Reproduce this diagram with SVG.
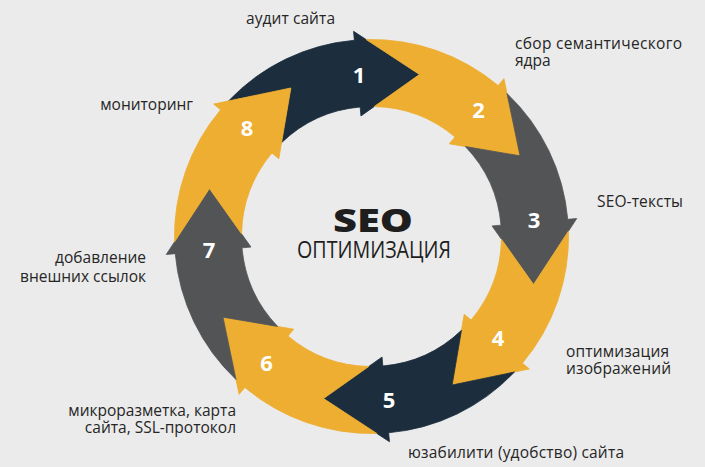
<svg xmlns="http://www.w3.org/2000/svg" width="705" height="467" viewBox="0 0 705 467">
  <style>
    .navy { fill: #1c2d3d; stroke: #1c2d3d; }
    .gold { fill: #edae31; stroke: #edae31; }
    .grey { fill: #535456; stroke: #535456; }
    .seg { stroke-width: 0.8; stroke-linejoin: round; }
    .num { font-family: "Open Sans", "DejaVu Sans", sans-serif; font-weight: 700; font-size: 22px; fill: #ffffff; text-anchor: middle; }
    .lbl { font-family: "Open Sans", "DejaVu Sans", sans-serif; font-size: 15.5px; fill: #262626; }
    .end { text-anchor: end; }
  </style>
  <defs>
    <path id="arrow" d="M 228.51 100.99 A 197 197 0 0 1 354.33 40.25 L 353.55 31.28 L 419.50 74.46 L 360.95 115.96 L 360.17 106.99 A 130 130 0 0 0 281.55 142.64 L 290.86 87.98 Z"/>
  </defs>
  <rect width="705" height="467" fill="#ebebeb"/>

  <g id="step-1">
    <use href="#arrow" class="navy seg"/>
    <text class="num" x="359" y="83">1</text>
    <text class="lbl" x="246" y="24" textLength="89" lengthAdjust="spacing">аудит сайта</text>
  </g>
  <g id="step-2">
    <use href="#arrow" class="gold seg" transform="rotate(45 371.5 236.5)"/>
    <text class="num" x="478.5" y="118">2</text>
    <text class="lbl" x="515" y="49" textLength="167" lengthAdjust="spacing">сбор семантического</text>
    <text class="lbl" x="515" y="66">ядра</text>
  </g>
  <g id="step-3">
    <use href="#arrow" class="grey seg" transform="rotate(90 371.5 236.5)"/>
    <text class="num" x="534" y="227.5">3</text>
    <text class="lbl" x="597" y="206.5" textLength="86" lengthAdjust="spacing">SEO-тексты</text>
  </g>
  <g id="step-4">
    <use href="#arrow" class="gold seg" transform="rotate(135 371.5 236.5)"/>
    <text class="num" x="498" y="345.5">4</text>
    <text class="lbl" x="566" y="356.5" textLength="103" lengthAdjust="spacing">оптимизация</text>
    <text class="lbl" x="566" y="374" textLength="105" lengthAdjust="spacing">изображений</text>
  </g>
  <g id="step-5">
    <use href="#arrow" class="navy seg" transform="rotate(180 371.5 236.5)"/>
    <text class="num" x="389" y="408">5</text>
    <text class="lbl" x="408" y="458" textLength="216" lengthAdjust="spacing">юзабилити (удобство) сайта</text>
  </g>
  <g id="step-6">
    <use href="#arrow" class="gold seg" transform="rotate(225 371.5 236.5)"/>
    <text class="num" x="266.5" y="370.5">6</text>
    <text class="lbl end" x="236" y="416">микроразметка, карта</text>
    <text class="lbl end" x="236" y="433">сайта, SSL-протокол</text>
  </g>
  <g id="step-7">
    <use href="#arrow" class="grey seg" transform="rotate(270 371.5 236.5)"/>
    <text class="num" x="209" y="257.5">7</text>
    <text class="lbl end" x="146" y="263">добавление</text>
    <text class="lbl end" x="146" y="282">внешних ссылок</text>
  </g>
  <g id="step-8">
    <use href="#arrow" class="gold seg" transform="rotate(315 371.5 236.5)"/>
    <text class="num" x="247" y="135.5">8</text>
    <text class="lbl end" x="193" y="110">мониторинг</text>
  </g>

  <g id="title">
    <text x="333" y="232" textLength="80" lengthAdjust="spacingAndGlyphs" font-family="'Open Sans', 'DejaVu Sans', sans-serif" font-weight="800" font-size="32" fill="#1e1e1e">SEO</text>
    <text x="297" y="258" textLength="154" lengthAdjust="spacingAndGlyphs" font-family="'Open Sans', 'DejaVu Sans', sans-serif" font-weight="400" font-size="23" fill="#1e1e1e">ОПТИМИЗАЦИЯ</text>
  </g>
</svg>
